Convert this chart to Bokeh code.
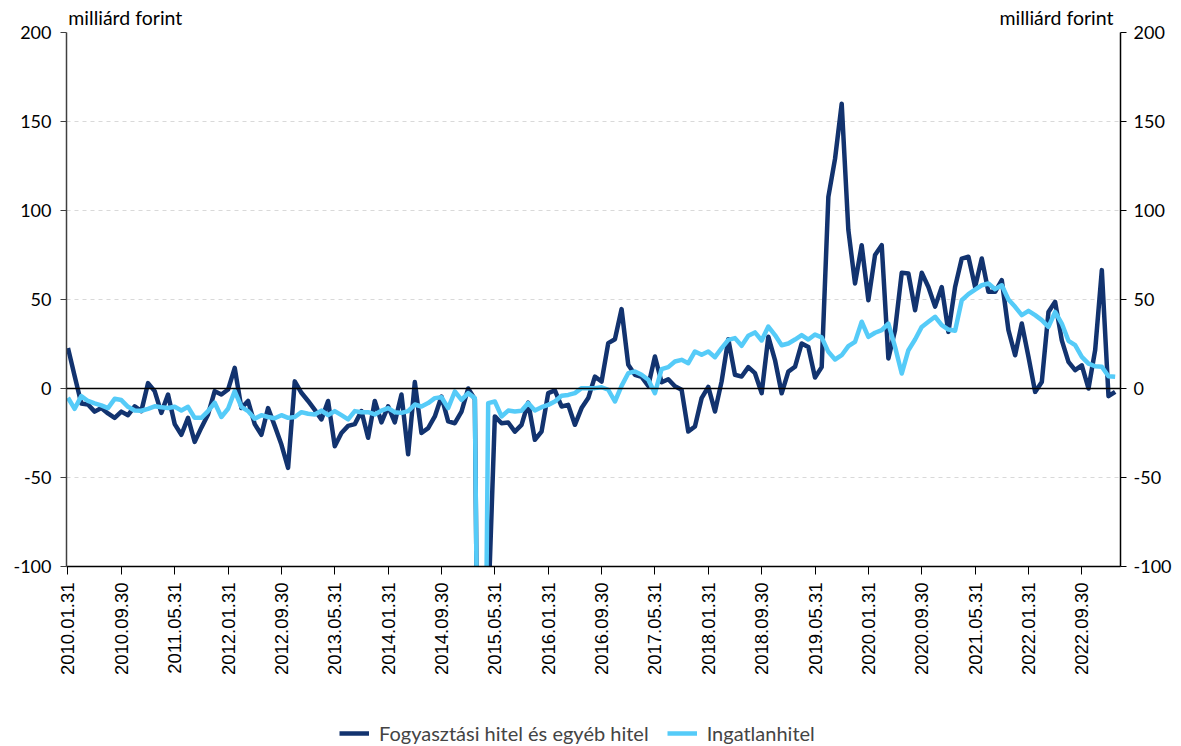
import math
from bokeh.plotting import figure
from bokeh.layouts import column
from bokeh.models import (Range1d, LinearAxis, FixedTicker, Span, Legend, LegendItem)
from bokeh.embed import file_html
from bokeh.resources import INLINE

# --- data (monthly, 2010.01 - 2023.02), milliárd forint ---
tick_labels = ["2010.01.31", "2010.09.30", "2011.05.31", "2012.01.31", "2012.09.30",
               "2013.05.31", "2014.01.31", "2014.09.30", "2015.05.31", "2016.01.31",
               "2016.09.30", "2017.05.31", "2018.01.31", "2018.09.30", "2019.05.31",
               "2020.01.31", "2020.09.30", "2021.05.31", "2022.01.31", "2022.09.30"]

y_ticks = [-100, -50, 0, 50, 100, 150, 200]
y_tick_labels = ["-100", "-50", "0", "50", "100", "150", "200"]

unit_label = "milliárd forint"
series_names = ["Fogyasztási hitel és egyéb hitel", "Ingatlanhitel"]

fogyasztasi = [
    22.8, 7.0, -8.4, -9.0, -13.0, -11.0, -14.0, -16.5, -13.0, -15.0,
    -10.0, -12.7, 3.0, -1.5, -13.7, -3.4, -20.0, -26.0, -16.5, -30.0,
    -22.0, -14.6, -1.5, -3.4, -0.6, 11.6, -11.0, -7.0, -20.0, -26.0,
    -11.0, -21.0, -31.5, -44.6, 4.0, -2.4, -7.0, -12.0, -17.4, -7.0,
    -32.4, -25.0, -21.0, -20.0, -12.7, -27.7, -7.0, -19.0, -10.0, -19.0,
    -3.4, -37.0, 3.6, -25.0, -22.3, -15.7, -4.5, -18.5, -19.5, -13.0,
    0.0, -6.0, -400.0, -125.0, -15.7, -19.5, -19.1, -24.2, -20.4, -7.9,
    -28.8, -24.2, -2.6, -1.1, -10.1, -9.2, -20.4, -11.0, -5.4, 6.7,
    3.9, 25.5, 27.7, 44.6, 13.3, 7.7, 6.5, 1.5, 18.0, 3.5,
    5.2, 1.3, -0.7, -24.2, -21.3, -5.4, 0.9, -12.9, 4.0, 27.7,
    7.7, 6.7, 12.0, 8.6, -2.6, 29.1, 16.0, -2.7, 9.5, 12.2,
    25.3, 23.3, 6.2, 12.0, 107.7, 129.0, 160.0, 89.0, 59.0, 80.5,
    49.6, 75.0, 80.5, 16.9, 32.8, 65.0, 64.6, 44.0, 65.0, 57.0,
    46.0, 57.0, 31.8, 57.0, 73.0, 74.0, 57.0, 73.0, 54.3, 54.3,
    60.9, 32.8, 18.7, 36.5, 17.8, -1.9, 3.7, 43.0, 48.7, 27.0,
    15.0, 10.3, 13.0, 0.0, 21.5, 66.5, -4.3, -1.9]

ingatlan = [
    -5.2, -11.4, -4.3, -7.0, -8.4, -9.5, -11.0, -5.8, -6.5, -10.3,
    -12.4, -12.5, -11.4, -10.0, -10.5, -11.0, -10.3, -12.4, -10.3, -16.5,
    -16.5, -12.7, -8.0, -16.0, -11.4, -1.5, -10.3, -12.7, -17.0, -15.0,
    -16.0, -16.7, -15.0, -16.5, -16.0, -13.3, -14.2, -14.6, -12.4, -15.0,
    -12.7, -15.0, -17.4, -12.7, -13.3, -13.3, -14.6, -12.4, -11.0, -13.3,
    -13.7, -12.7, -9.0, -10.1, -8.2, -5.4, -4.9, -11.0, -1.7, -6.4,
    -2.6, -5.4, -400.0, -8.2, -7.3, -15.7, -12.4, -12.9, -12.5, -8.2,
    -12.4, -10.5, -9.2, -7.3, -4.1, -3.6, -2.6, 0.2, 0.2, 0.2,
    0.7, -0.7, -7.3, 1.5, 8.6, 9.6, 7.7, 4.9, -2.6, 10.9,
    12.0, 15.2, 16.1, 14.2, 20.8, 18.9, 20.8, 17.6, 22.7, 27.3,
    28.3, 24.0, 29.6, 31.5, 27.0, 34.8, 30.0, 24.3, 25.3, 27.5,
    30.0, 27.5, 30.3, 28.7, 20.6, 16.3, 18.7, 23.8, 26.2, 37.5,
    29.0, 31.3, 32.8, 36.5, 23.4, 8.4, 21.5, 27.5, 34.6, 37.5,
    40.3, 35.6, 33.1, 32.4, 49.6, 53.0, 55.6, 58.0, 59.0, 55.8,
    58.0, 50.0, 45.9, 41.2, 43.6, 41.2, 38.4, 34.6, 43.0, 36.5,
    26.8, 24.3, 17.8, 14.0, 12.5, 12.2, 6.9, 6.6]

months = list(range(len(fogyasztasi)))
tick_pos = list(range(0, 8 * len(tick_labels), 8))

DARK = "#12336F"
LIGHT = "#55CBF8"
FONT = "Lato"
XR = Range1d(-0.22, 157.8)

p = figure(frame_width=1054, frame_height=534, output_backend="svg",
           toolbar_location=None, x_range=XR,
           y_range=Range1d(-100, 200), min_border_left=66, min_border_right=55,
           min_border_top=32, min_border_bottom=110)
p.outline_line_color = None
p.background_fill_color = "white"
p.border_fill_color = "white"

# grid
p.xgrid.grid_line_color = None
p.ygrid.grid_line_color = "#D9D9D9"
p.ygrid.grid_line_dash = "4 4"
p.ygrid.grid_line_width = 1
p.ygrid.ticker = FixedTicker(ticks=[-50, 50, 100, 150, 200])

# y axes
yt = FixedTicker(ticks=y_ticks)
y_over = {t: l for t, l in zip(y_ticks, y_tick_labels)}


def style_y(ax, standoff, color):
    ax.ticker = yt
    ax.major_label_overrides = y_over
    ax.major_label_text_font = FONT
    ax.major_label_text_font_size = "18px"
    ax.major_label_text_color = "black"
    ax.axis_line_color = color
    ax.axis_line_width = 1.5
    ax.major_tick_out = 6
    ax.major_tick_in = 0
    ax.minor_tick_line_color = None
    ax.major_tick_line_color = color
    ax.major_label_standoff = standoff


style_y(p.left[0], 9, "#404040")
ra = LinearAxis()
style_y(ra, 7, "black")
p.add_layout(ra, "right")

# x axis (bottom)
xa = p.below[0]
xa.ticker = FixedTicker(ticks=tick_pos)
xa.major_label_overrides = {t: l for t, l in zip(tick_pos, tick_labels)}
xa.major_label_orientation = math.pi / 2
xa.major_label_text_font = "Liberation Sans"
xa.major_label_text_font_size = "18.5px"
xa.major_label_text_color = "black"
xa.axis_line_color = "black"
xa.axis_line_width = 1.5
xa.major_tick_out = 8
xa.major_tick_in = 0
xa.minor_tick_line_color = None
xa.major_label_standoff = 8

# unit labels (as labels of an invisible top axis)
unit_pos = [8.6, 148.2]
ua = LinearAxis(ticker=FixedTicker(ticks=unit_pos),
                major_label_overrides={t: unit_label for t in unit_pos})
ua.axis_line_color = None
ua.major_tick_line_color = None
ua.minor_tick_line_color = None
ua.major_tick_out = 0
ua.major_label_standoff = 4
ua.major_label_text_font = FONT
ua.major_label_text_font_style = "normal"
ua.major_label_text_font_size = "19.5px"
ua.major_label_text_color = "black"
p.add_layout(ua, "above")

# zero line
p.add_layout(Span(location=0, dimension="width", line_color="black", line_width=1.5))

p.line(months, fogyasztasi, line_color=DARK, line_width=4.5, line_join="round")
p.line(months, ingatlan, line_color=LIGHT, line_width=4.5, line_join="round")

# legend strip below the chart
p2 = figure(frame_width=1054, frame_height=70, output_backend="svg",
            toolbar_location=None, x_range=XR, y_range=Range1d(1000, 1001),
            x_axis_type=None, y_axis_type=None,
            min_border_left=66, min_border_right=55, min_border_top=0, min_border_bottom=0)
p2.outline_line_color = None
p2.grid.grid_line_color = None
q1 = p2.line(months, fogyasztasi, line_color=DARK, line_width=4.5)
q2 = p2.line(months, ingatlan, line_color=LIGHT, line_width=4.5)

legend = Legend(items=[LegendItem(label=series_names[0], renderers=[q1]),
                       LegendItem(label=series_names[1], renderers=[q2])],
                orientation="horizontal", location=(273, 3))
legend.label_text_font = FONT
legend.label_text_font_size = "20px"
legend.glyph_width = 30
legend.glyph_height = 20
legend.label_height = 20
legend.label_standoff = 10
legend.spacing = 18
legend.padding = 2
legend.border_line_color = None
legend.background_fill_alpha = 0
p2.add_layout(legend)

open("out.html", "w").write(file_html(column(p, p2, spacing=0), INLINE))
